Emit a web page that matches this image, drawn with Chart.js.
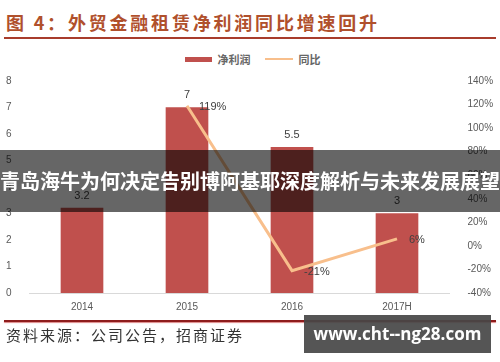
<!DOCTYPE html>
<html>
<head>
<meta charset="utf-8">
<script src="https://cdn.jsdelivr.net/npm/chart.js@4/dist/chart.umd.min.js"></script>
<style>
  body { margin: 0; width: 500px; height: 362px; background: #fff; position: relative; overflow: hidden; font-family: "Noto Sans CJK SC", sans-serif; }
  #title { position: absolute; left: 6px; top: 9px; font-size: 18px; font-weight: bold; color: #b0502c; letter-spacing: 2.8px; white-space: nowrap; }
  #titleLine { position: absolute; left: 4px; top: 37px; width: 492px; height: 2px; background: #a83c2c; }
  #legend { position: absolute; top: 49px; left: 185px; font-size: 11px; font-weight: bold; color: #666; white-space: nowrap; }
  #legend span { display: inline-block; vertical-align: middle; }
  .chartBox { position: absolute; left: 0; top: 60px; width: 500px; height: 260px; }
  #bottomLine { position: absolute; left: 4px; top: 320px; width: 492px; height: 2px; background: #8e1c1c; box-shadow: 0 1px 1px #d88; }
  #source { position: absolute; left: 6px; top: 324px; font-size: 15px; color: #333; letter-spacing: 2px; white-space: nowrap; }
  #banner { position: absolute; left: 0; top: 150px; width: 500px; height: 62px; background: rgba(0,0,0,0.6); color: #fff; font-size: 20px; font-weight: bold; line-height: 62px; text-align: center; white-space: nowrap; overflow: hidden; }
  #mark { position: absolute; left: 304px; top: 315px; width: 187px; height: 38px; background: rgba(70,70,70,0.92); color: #fff; font-family: "Open Sans", sans-serif; font-weight: bold; font-size: 17px; line-height: 38px; text-align: center; }
</style>
</head>
<body>
<div id="title">图 4：外贸金融租赁净利润同比增速回升</div>
<div id="titleLine"></div>
<div id="legend">
  <span style="width:27px;height:5px;background:#c0504d;"></span>
  <span style="margin-left:3px;">净利润</span>
  <span style="width:28px;height:2px;background:#f8bf8c;margin-left:12px;"></span>
  <span style="margin-left:3px;">同比</span>
</div>
<div class="chartBox"><canvas id="grafico"></canvas></div>
<div id="bottomLine"></div>
<div id="source">资料来源：公司公告，招商证券</div>
<div id="banner">青岛海牛为何决定告别博阿基耶深度解析与未来发展展望</div>
<div id="mark">www.cht--ng28.com</div>
<script>
const anos = ['2014', '2015', '2016', '2017H'];
const lucroLiquido = [3.2, 7, 5.5, 3];
const crescimento = [null, 119, -21, 6];
const ticksEsquerda = [0, 1, 2, 3, 4, 5, 6, 7, 8];
const ticksDireita = [-40, -20, 0, 20, 40, 60, 80, 100, 120, 140];

// rotulos de valor desenhados na posicao dos elementos
const rotulos = {
  id: 'rotulos',
  afterDatasetsDraw(chart) {
    const ctx = chart.ctx;
    ctx.save();
    ctx.font = '11px "Liberation Sans", Arial, sans-serif';
    ctx.fillStyle = '#404040';
    chart.getDatasetMeta(0).data.forEach((el, i) => {
      ctx.textAlign = 'center';
      ctx.textBaseline = 'bottom';
      ctx.fillText(String(lucroLiquido[i]), el.x, el.y - 7);
    });
    chart.getDatasetMeta(1).data.forEach((el, i) => {
      if (crescimento[i] === null) return;
      ctx.textAlign = 'left';
      ctx.textBaseline = 'middle';
      ctx.fillText(crescimento[i] + '%', el.x + 12, el.y + 1);
    });
    ctx.restore();
  }
};

const fonteEixo = { family: '"Liberation Sans", Arial, sans-serif', size: 10 };

new Chart(document.getElementById('grafico'), {
  data: {
    labels: anos,
    datasets: [{
      type: 'bar',
      label: '净利润',
      data: lucroLiquido,
      backgroundColor: '#c0504d',
      barThickness: 42,
      yAxisID: 'y',
      order: 2
    }, {
      type: 'line',
      label: '同比',
      data: crescimento,
      borderColor: '#f8bf8c',
      borderWidth: 3,
      pointRadius: 0,
      fill: false,
      yAxisID: 'y1',
      order: 1
    }]
  },
  options: {
    responsive: true,
    maintainAspectRatio: false,
    animation: false,
    layout: { padding: { top: 21, bottom: 0, left: 0, right: 0 } },
    plugins: { legend: { display: false }, tooltip: { enabled: false } },
    scales: {
      x: {
        grid: { display: false, drawTicks: false },
        border: { color: '#d9d9d9' },
        ticks: { color: '#595959', font: fonteEixo, padding: 8 },
        afterFit: s => { s.height = 27; }
      },
      y: {
        position: 'left',
        min: 0, max: 8,
        grid: { display: false },
        border: { display: false },
        afterBuildTicks: s => { s.ticks = ticksEsquerda.map(v => ({ value: v })); },
        ticks: { color: '#595959', font: fonteEixo, padding: 10 },
        afterFit: s => { s.width = 29.5; }
      },
      y1: {
        position: 'right',
        min: -40, max: 140,
        grid: { display: false },
        border: { display: false },
        afterBuildTicks: s => { s.ticks = ticksDireita.map(v => ({ value: v })); },
        ticks: { color: '#595959', font: fonteEixo, padding: 10, callback: v => v + '%' },
        afterFit: s => { s.width = 50.5; }
      }
    }
  },
  plugins: [rotulos]
});
</script>
</body>
</html>
